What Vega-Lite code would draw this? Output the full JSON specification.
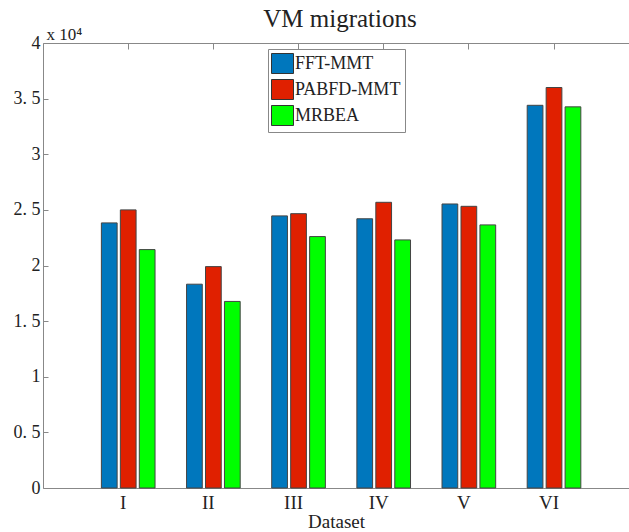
{
  "$schema": "https://vega.github.io/schema/vega-lite/v6.json",
  "width": 586,
  "height": 445,
  "autosize": {"type": "none"},
  "padding": {"left": 43, "top": 43, "right": 0, "bottom": 44},
  "background": "white",
  "config": {"view": {"stroke": null}, "font": "Liberation Serif"},
  "title": {"text": "VM migrations", "fontSize": 25, "font": "Liberation Serif", "fontWeight": "normal", "color": "#222", "baseline": "alphabetic", "offset": -27, "anchor": "middle", "dx": 4},
  "data": {"values": [
    {"dataset": "I", "method": "FFT-MMT", "value": 23830},
    {"dataset": "I", "method": "PABFD-MMT", "value": 25000},
    {"dataset": "I", "method": "MRBEA", "value": 21430},
    {"dataset": "II", "method": "FFT-MMT", "value": 18320},
    {"dataset": "II", "method": "PABFD-MMT", "value": 19900},
    {"dataset": "II", "method": "MRBEA", "value": 16770},
    {"dataset": "III", "method": "FFT-MMT", "value": 24460},
    {"dataset": "III", "method": "PABFD-MMT", "value": 24660},
    {"dataset": "III", "method": "MRBEA", "value": 22600},
    {"dataset": "IV", "method": "FFT-MMT", "value": 24200},
    {"dataset": "IV", "method": "PABFD-MMT", "value": 25680},
    {"dataset": "IV", "method": "MRBEA", "value": 22300},
    {"dataset": "V", "method": "FFT-MMT", "value": 25530},
    {"dataset": "V", "method": "PABFD-MMT", "value": 25320},
    {"dataset": "V", "method": "MRBEA", "value": 23650},
    {"dataset": "VI", "method": "FFT-MMT", "value": 34400},
    {"dataset": "VI", "method": "PABFD-MMT", "value": 36000},
    {"dataset": "VI", "method": "MRBEA", "value": 34260}
  ]},
  "layer": [
    {
      "mark": {"type": "bar", "stroke": "#444", "strokeWidth": 1},
      "encoding": {
        "x": {
          "field": "dataset", "type": "nominal", "sort": ["I", "II", "III", "IV", "V", "VI"],
          "scale": {"paddingInner": 0.37, "paddingOuter": 0.6256, "align": 0.548},
          "axis": {"title": "Dataset", "labelAngle": 0, "ticks": false, "domainColor": "#888", "labelFont": "Liberation Serif", "labelFontSize": 19, "labelColor": "#222", "labelOffset": -5, "labelPadding": 5, "titleFont": "Liberation Serif", "titleFontSize": 19, "titleFontWeight": "normal", "titleColor": "#222", "titlePadding": 0}
        },
        "xOffset": {"field": "method", "type": "nominal", "sort": ["FFT-MMT", "PABFD-MMT", "MRBEA"], "scale": {"paddingInner": 0.17, "paddingOuter": 0}},
        "y": {
          "field": "value", "type": "quantitative",
          "scale": {"domain": [0, 40000], "nice": false},
          "axis": {"values": [0, 5000, 10000, 15000, 20000, 25000, 30000, 35000, 40000], "labelExpr": "replace(toString(datum.value/10000), '.', '. ')", "grid": false, "tickSize": -5, "tickColor": "#888", "domainColor": "#888", "labelFont": "Liberation Serif", "labelFontSize": 18, "labelColor": "#222", "labelPadding": 8, "title": "x  10⁴", "titleAngle": 0, "titleAlign": "left", "titleBaseline": "alphabetic", "titleX": 3, "titleY": -4, "titleFont": "Liberation Serif", "titleFontSize": 17, "titleFontWeight": "normal", "titleColor": "#222"}
        },
        "color": {
          "field": "method", "type": "nominal",
          "scale": {"domain": ["FFT-MMT", "PABFD-MMT", "MRBEA"], "range": ["#0077BD", "#E02000", "#00FF00"]},
          "legend": {"title": null, "orient": "none", "legendX": 225, "legendY": 6, "direction": "vertical", "fillColor": "white", "strokeColor": "#888", "padding": 4, "symbolType": "M-1.1,-1H1.1V1H-1.1Z", "symbolSize": 400, "symbolStrokeColor": "#333", "symbolStrokeWidth": 1, "symbolOpacity": 1, "rowPadding": 1, "labelFont": "Liberation Serif", "labelFontSize": 18, "labelColor": "#222", "labelOffset": 2}
        }
      }
    },
    {
      "mark": {"type": "bar", "opacity": 0},
      "encoding": {
        "x": {"field": "dataset", "type": "nominal", "sort": ["I", "II", "III", "IV", "V", "VI"], "axis": {"orient": "top", "labels": false, "title": null, "tickSize": -6, "tickColor": "#888", "domainColor": "#888"}}
      }
    }
  ],
  "resolve": {"axis": {"x": "independent"}}
}
